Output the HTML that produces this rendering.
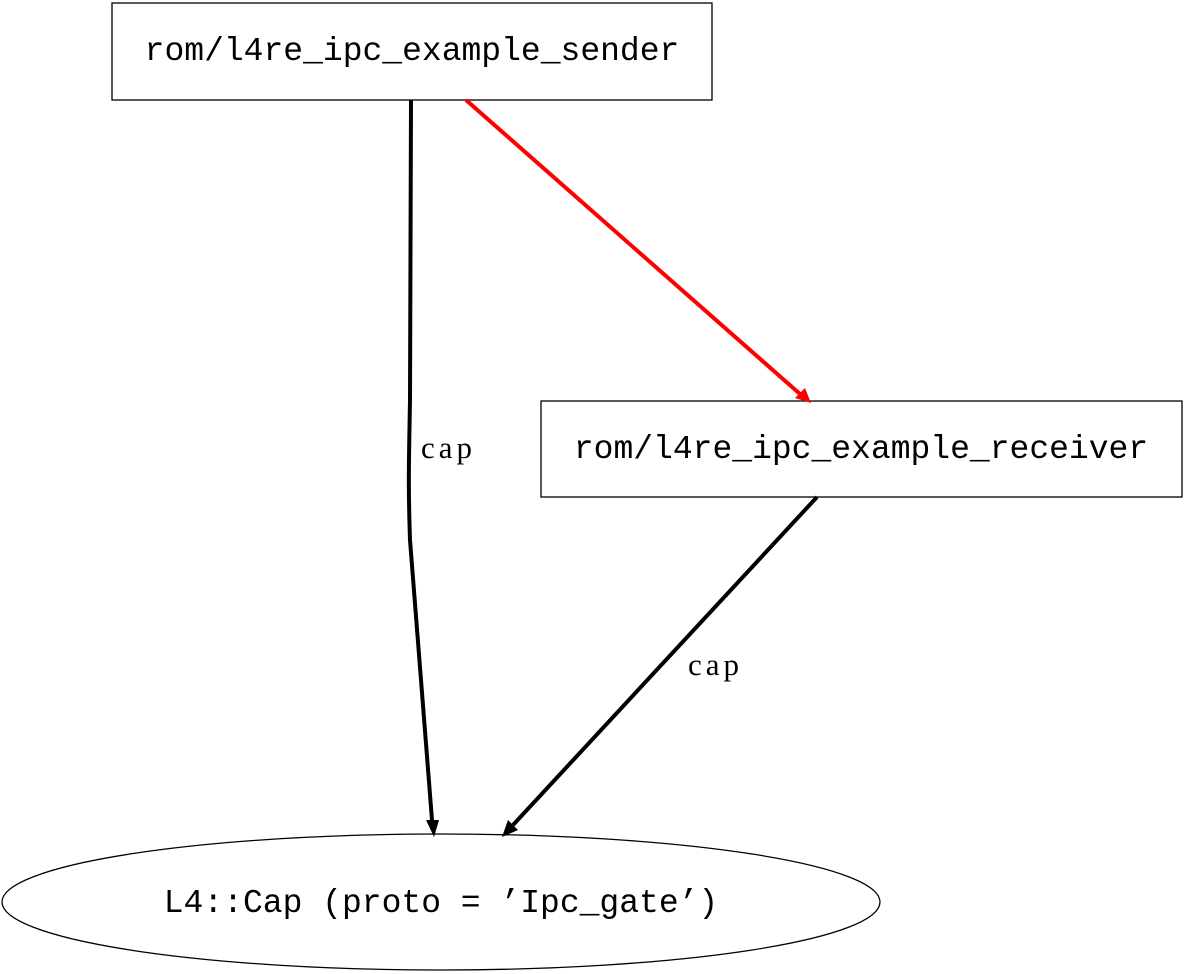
<!DOCTYPE html>
<html><head><meta charset="utf-8"><style>
html,body{margin:0;padding:0;background:#fff;width:1185px;height:974px;overflow:hidden}
</style></head><body>
<svg width="1185" height="974" viewBox="0 0 1185 974" xmlns="http://www.w3.org/2000/svg">
<rect x="112" y="3" width="600" height="97" fill="#fff" stroke="#000" stroke-width="1.3"/>
<text x="412" y="60" text-anchor="middle" font-family="Liberation Mono, monospace" font-size="33">rom/l4re_ipc_example_sender</text>
<rect x="541" y="401" width="641" height="96" fill="#fff" stroke="#000" stroke-width="1.3"/>
<text x="861" y="458" text-anchor="middle" font-family="Liberation Mono, monospace" font-size="33">rom/l4re_ipc_example_receiver</text>
<ellipse cx="441" cy="902" rx="439" ry="68" fill="#fff" stroke="#000" stroke-width="1.3"/>
<text x="441" y="912" text-anchor="middle" font-family="Liberation Mono, monospace" font-size="33">L4::Cap (proto = ’Ipc_gate’)</text>
<path d="M411,100 L410,400 C409,460 408,480 410,540 L432,820" fill="none" stroke="#000" stroke-width="4"/>
<polygon points="426,820 439,820 434,837" fill="#000"/>
<path d="M466,100 L800,394" fill="none" stroke="#f00" stroke-width="4"/>
<polygon points="795,398 805,388 811,403" fill="#f00"/>
<path d="M817,497 L513,825" fill="none" stroke="#000" stroke-width="4"/>
<polygon points="508,820 518,830 502,837" fill="#000"/>
<text x="421" y="458" font-family="Liberation Serif, serif" font-size="31" letter-spacing="4">cap</text>
<text x="688" y="675" font-family="Liberation Serif, serif" font-size="31" letter-spacing="4">cap</text>
</svg>
</body></html>
